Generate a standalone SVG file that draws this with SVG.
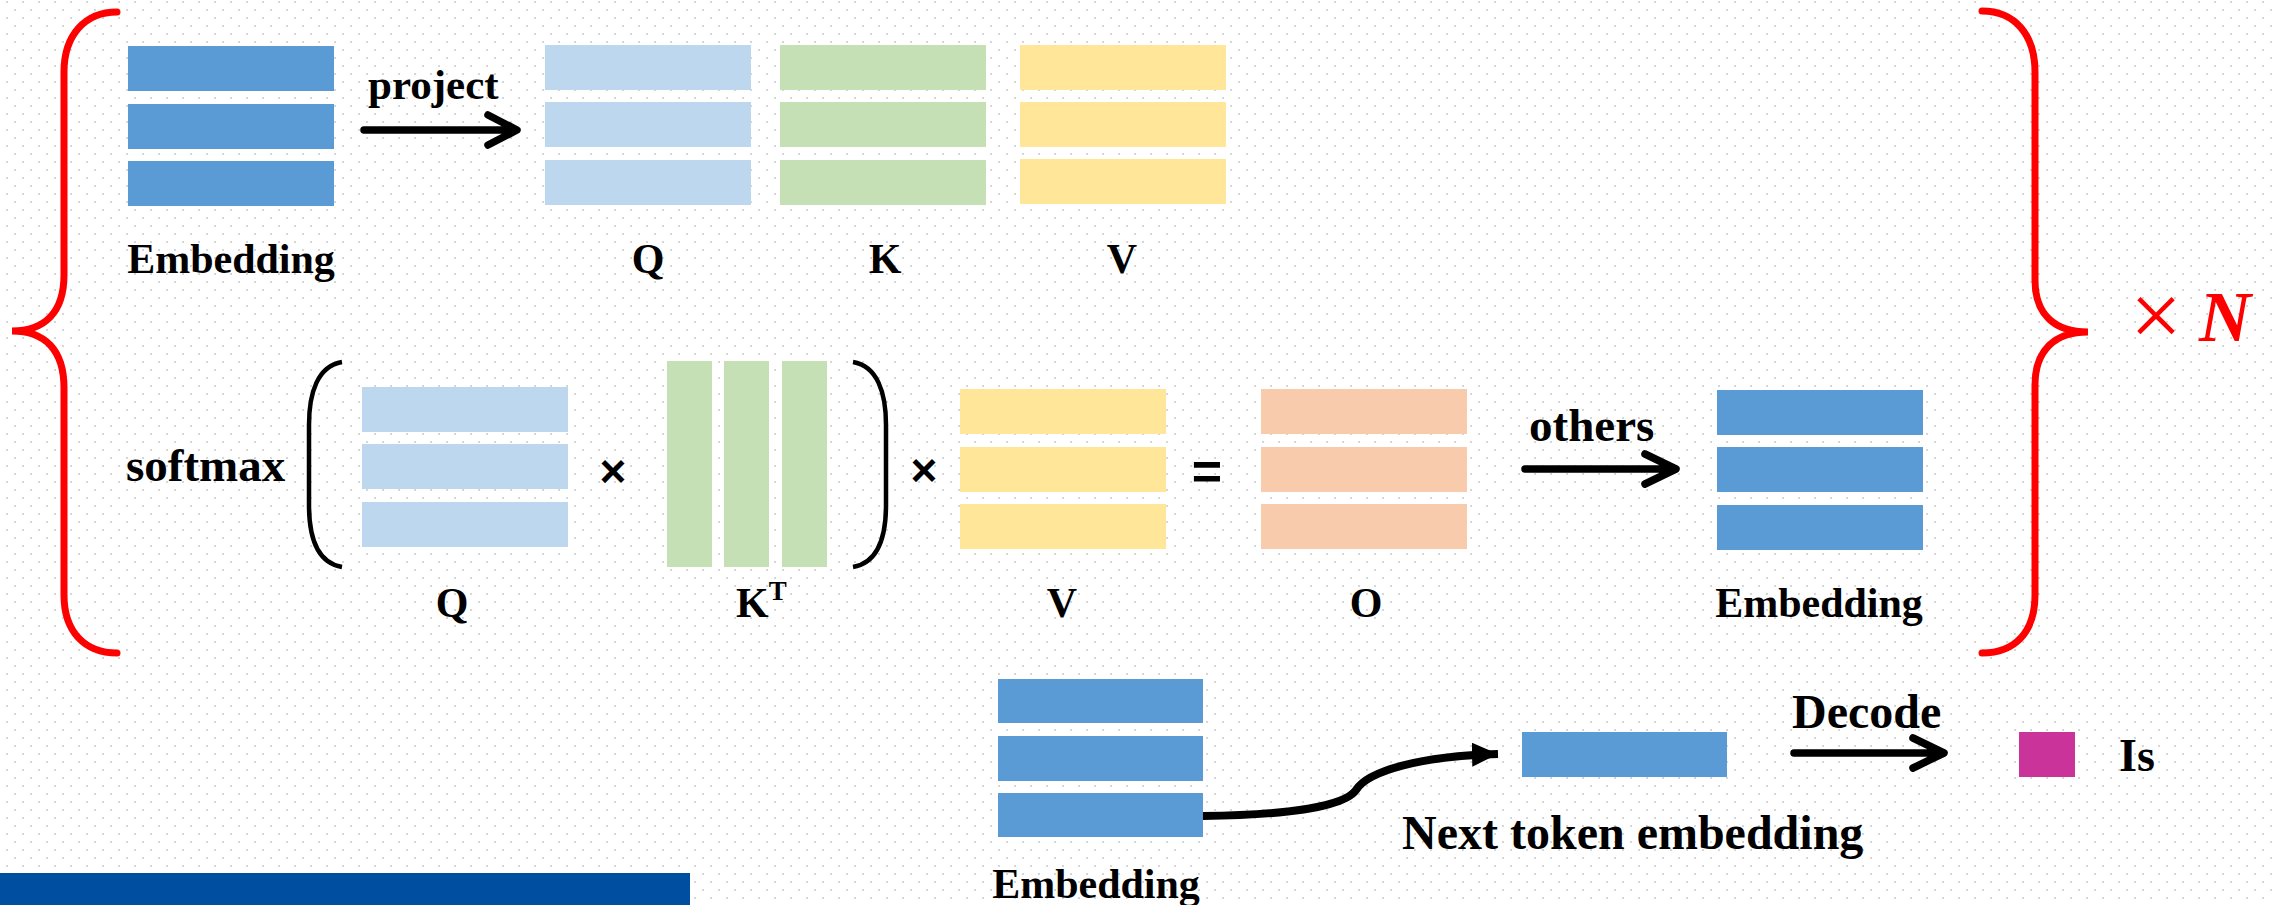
<svg xmlns="http://www.w3.org/2000/svg" width="2274" height="905" viewBox="0 0 2274 905">
<defs>
<pattern id="dots" patternUnits="userSpaceOnUse" x="0" y="0" width="16" height="16">
<rect x="6" y="1" width="2" height="2" fill="#d6d6d6"/>
<rect x="14" y="9" width="2" height="2" fill="#d6d6d6"/>
</pattern>
<marker id="tri" markerUnits="userSpaceOnUse" markerWidth="30" markerHeight="30" refX="26" refY="12" orient="auto">
<path d="M0,0 L26,12 L0,24 Z" fill="#000"/>
</marker>
<style>
.emb{fill:#5B9BD5}
.q{fill:#BDD7EE}
.k{fill:#C5E0B4}
.v{fill:#FFE699}
.o{fill:#F8CBAD}
.lbl{font-family:"Liberation Serif","Times New Roman",serif;font-weight:bold;fill:#000}
.brace{fill:none;stroke:#FF0000;stroke-width:7;stroke-linecap:round}
.paren{fill:none;stroke:#000;stroke-width:4.5;stroke-linecap:butt}
.arr{fill:none;stroke:#000;stroke-width:7.5;stroke-linecap:round;stroke-linejoin:round}
.op{font-family:"Liberation Sans",Arial,sans-serif;font-weight:bold;fill:#000;text-anchor:middle}
</style>
</defs>
<rect width="2274" height="905" fill="#ffffff"/>
<rect width="2274" height="905" fill="url(#dots)"/>

<g id="brace-left"><path class="brace" d="M117,12 C85,12 64,35 64,72 L64,275 C64,312 45,331 12,331 C45,331 64,350 64,388 L64,595 C64,632 85,653 117,653"/></g>
<g id="brace-right"><path class="brace" d="M1982,11 C2015,11 2035,35 2035,72 L2035,280 C2035,315 2055,332 2088,332 C2055,332 2035,350 2035,385 L2035,595 C2035,632 2015,653 1982,653"/></g>
<g id="times-n">
<text x="2156" y="346" font-family="Liberation Serif,serif" font-size="92" fill="#FF0000" text-anchor="middle">×</text>
<text x="2199" y="341" font-family="Liberation Serif,serif" font-size="72" font-weight="bold" font-style="italic" fill="#FF0000">N</text>
</g>

<g id="embedding-top">
<rect class="emb" x="128" y="46" width="206" height="45"/>
<rect class="emb" x="128" y="104" width="206" height="45"/>
<rect class="emb" x="128" y="161" width="206" height="45"/>
<text class="lbl" x="231" y="273" font-size="42" text-anchor="middle">Embedding</text>
</g>
<g id="q-top">
<rect class="q" x="545" y="45" width="206" height="45"/>
<rect class="q" x="545" y="102" width="206" height="45"/>
<rect class="q" x="545" y="160" width="206" height="45"/>
<text class="lbl" x="648" y="273" font-size="42" text-anchor="middle">Q</text>
</g>
<g id="k-top">
<rect class="k" x="780" y="45" width="206" height="45"/>
<rect class="k" x="780" y="102" width="206" height="45"/>
<rect class="k" x="780" y="160" width="206" height="45"/>
<text class="lbl" x="885" y="273" font-size="42" text-anchor="middle">K</text>
</g>
<g id="v-top">
<rect class="v" x="1020" y="45" width="206" height="45"/>
<rect class="v" x="1020" y="102" width="206" height="45"/>
<rect class="v" x="1020" y="159" width="206" height="45"/>
<text class="lbl" x="1122" y="273" font-size="42" text-anchor="middle">V</text>
</g>

<g id="softmax">
<text class="lbl" x="126" y="481" font-size="47">softmax</text>
<path class="paren" d="M342,362 C318,366 309,392 309,425 L309,505 C309,538 318,563 342,567"/>
<path class="paren" d="M853,362 C877,366 886,392 886,425 L886,505 C886,538 877,563 853,567"/>
<text class="op" x="613" y="487" font-size="46">×</text>
<text class="op" x="924" y="486" font-size="46">×</text>
<text class="op" x="1207" y="489" font-size="52" font-weight="normal">=</text>
</g>
<g id="q-mid">
<rect class="q" x="362" y="387" width="206" height="45"/>
<rect class="q" x="362" y="444" width="206" height="45"/>
<rect class="q" x="362" y="502" width="206" height="45"/>
<text class="lbl" x="452" y="617" font-size="42" text-anchor="middle">Q</text>
</g>
<g id="kt-mid">
<rect class="k" x="667" y="361" width="45" height="206"/>
<rect class="k" x="724" y="361" width="45" height="206"/>
<rect class="k" x="782" y="361" width="45" height="206"/>
<text class="lbl" x="736" y="617" font-size="42">K<tspan font-size="27" dy="-17">T</tspan></text>
</g>
<g id="v-mid">
<rect class="v" x="960" y="389" width="206" height="45"/>
<rect class="v" x="960" y="447" width="206" height="45"/>
<rect class="v" x="960" y="504" width="206" height="45"/>
<text class="lbl" x="1062" y="617" font-size="42" text-anchor="middle">V</text>
</g>
<g id="o-mid">
<rect class="o" x="1261" y="389" width="206" height="45"/>
<rect class="o" x="1261" y="447" width="206" height="45"/>
<rect class="o" x="1261" y="504" width="206" height="45"/>
<text class="lbl" x="1366" y="617" font-size="42" text-anchor="middle">O</text>
</g>
<g id="embedding-mid">
<rect class="emb" x="1717" y="390" width="206" height="45"/>
<rect class="emb" x="1717" y="447" width="206" height="45"/>
<rect class="emb" x="1717" y="505" width="206" height="45"/>
<text class="lbl" x="1819" y="617" font-size="42" text-anchor="middle">Embedding</text>
</g>

<g id="embedding-bottom">
<rect class="emb" x="998" y="679" width="205" height="44"/>
<rect class="emb" x="998" y="736" width="205" height="45"/>
<rect class="emb" x="998" y="793" width="205" height="44"/>
<text class="lbl" x="1096" y="898" font-size="42" text-anchor="middle">Embedding</text>
</g>
<g id="next-token">
<rect class="emb" x="1522" y="732" width="205" height="45"/>
<text class="lbl" x="1402" y="849" font-size="48">Next token embedding</text>
</g>
<g id="token-is">
<rect x="2019" y="732" width="56" height="45" fill="#C9339A"/>
<text class="lbl" x="2119" y="771" font-size="46">Is</text>
</g>
<g id="footer-bar"><rect x="0" y="873" width="690" height="32" fill="#004EA0"/></g>

<g id="connectors">
<path class="arr" d="M364,130 L515,130 M488,115 L517,130 L488,145"/>
<text class="lbl" x="368" y="99" font-size="43">project</text>
<path class="arr" d="M1525,469 L1674,469 M1645,454 L1676,469 L1645,484"/>
<text class="lbl" x="1529" y="441" font-size="47">others</text>
<path class="arr" d="M1794,753 L1942,753 M1913,738 L1944,753 L1913,768"/>
<text class="lbl" x="1792" y="728" font-size="48">Decode</text>
<path d="M1203,816 C1290,815 1345,806 1356,790 C1368,771 1420,756 1498,754" fill="none" stroke="#000" stroke-width="8" marker-end="url(#tri)"/>
</g>
</svg>
